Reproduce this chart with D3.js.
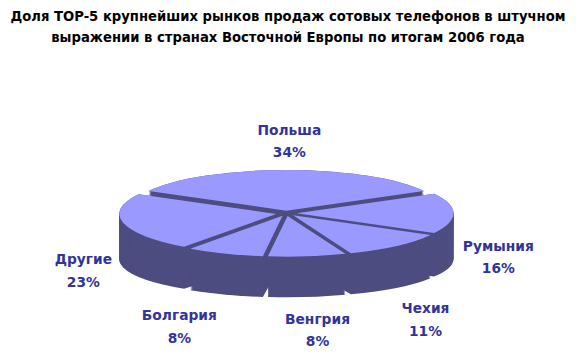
<!DOCTYPE html>
<html>
<head>
<meta charset="utf-8">
<script src="https://cdn.jsdelivr.net/npm/d3@7"></script>
<style>
  body { margin: 0; background: #fff; }
  svg { display: block; }
</style>
</head>
<body>
<script>
// данные
var countries = ["Польша", "Румыния", "Чехия", "Венгрия", "Болгария", "Другие"];
var shares = [34, 16, 11, 8, 8, 23];
var titleLines = [
    "Доля TOP-5 крупнейших рынков продаж сотовых телефонов в штучном",
    "выражении в странах Восточной Европы по итогам 2006 года"
];

var width = 576, height = 354;
var cx = 286.3, cy = 213.3;      // центр пирога
var rx = 157, ry = 40.7;          // эллипс верхней грани
var depth = 46, squeeze = 5;      // высота стенки, сжатие нижней грани
var explode = 0.065;              // отрыв кусков
var topColor = "#9999ff", sideColor = "#4d4d80", labelColor = "#333399";

// сдвиги подписей, как их раскидал Excel
var labelNudge = [[0, 0], [0, 0], [-2, 0], [2, 0], [-33, -3], [-2, -6]];

var svg = d3.select("body").append("svg")
    .attr("width", width)
    .attr("height", height);

// заголовок
svg.append("g").selectAll("text").data(titleLines)
    .enter().append("text")
    .attr("x", width / 2)
    .attr("y", function(d, i) { return 21 + i * 20.5; })
    .attr("text-anchor", "middle")
    .style("font-family", "'DejaVu Sans', sans-serif")
    .style("font-weight", "bold")
    .style("font-size", "13.2px")
    .attr("fill", "#000")
    .text(function(d) { return d; });

var start = -shares[0] / 100 * Math.PI;
var pie = d3.pie().sort(null).startAngle(start).endAngle(start + 2 * Math.PI);
var slices = pie(shares);

var arc = d3.arc().innerRadius(0).outerRadius(rx);

function mid(d) { return (d.startAngle + d.endAngle) / 2; }

function offset(d) {
    var m = mid(d);
    return "translate(" + (explode * rx * Math.sin(m)) + "," + (-explode * rx * Math.cos(m)) + ")";
}

// стенки: прогоняем куски вниз слоями
var sides = svg.append("g");
for (var k = depth; k >= 0; k--) {
    var t = k / depth;
    var layer = sides.append("g")
        .attr("transform", "translate(" + cx + "," + (cy + k) + ") scale(1," + ((ry - t * squeeze) / rx) + ")");
    layer.selectAll("path").data(slices)
        .enter().append("path")
        .attr("d", arc)
        .attr("transform", offset)
        .attr("fill", sideColor);
}

// верхняя грань
svg.append("g")
    .attr("transform", "translate(" + cx + "," + cy + ") scale(1," + (ry / rx) + ")")
    .selectAll("path").data(slices)
    .enter().append("path")
    .attr("d", arc)
    .attr("transform", offset)
    .attr("fill", topColor);

// подписи
var labels = svg.append("g").selectAll("g").data(slices)
    .enter().append("g")
    .attr("transform", function(d, i) {
        var m = mid(d);
        var x = cx + 3 + 209 * Math.sin(m) + labelNudge[i][0];
        var y = cy + 21.5 - 93.5 * Math.cos(m) + 22.2 * Math.abs(Math.sin(m)) + labelNudge[i][1];
        return "translate(" + x + "," + y + ")";
    })
    .style("font-family", "'DejaVu Sans', sans-serif")
    .style("font-weight", "bold")
    .style("font-size", "13.8px")
    .attr("fill", labelColor)
    .attr("text-anchor", "middle");

labels.append("text")
    .attr("y", -11.3)
    .attr("dy", "0.35em")
    .text(function(d, i) { return countries[i]; });

labels.append("text")
    .attr("y", 11.3)
    .attr("dy", "0.35em")
    .text(function(d) { return d.data + "%"; });
</script>
</body>
</html>
